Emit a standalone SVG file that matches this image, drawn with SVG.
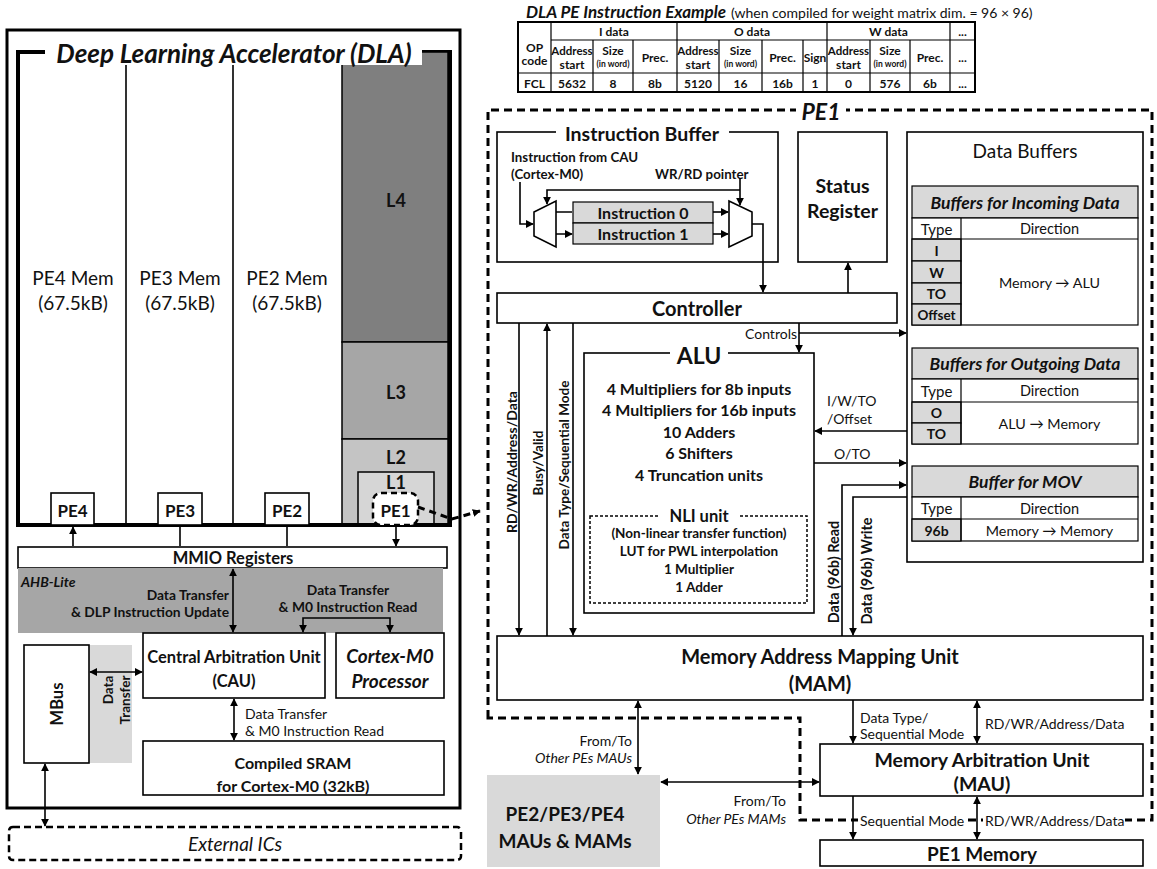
<svg xmlns="http://www.w3.org/2000/svg" width="1157" height="869" viewBox="0 0 1157 869">
<defs>
<marker id="ah" viewBox="0 0 10 10" refX="9" refY="5" markerWidth="8" markerHeight="8" markerUnits="userSpaceOnUse" orient="auto-start-reverse"><path d="M0,0 L10,5 L0,10 z" fill="#000"/></marker>
<style>
text{font-family:Lato,"Liberation Sans",sans-serif;fill:#111}
.c{text-anchor:middle;dominant-baseline:central}
.s{text-anchor:start;dominant-baseline:central}
.e{text-anchor:end;dominant-baseline:central}
.bo{font-weight:bold}
.it{font-style:italic}
.bx{fill:#fff;stroke:#000;stroke-width:1.6}
.ln{fill:none;stroke:#000;stroke-width:1.6}
.ar{fill:none;stroke:#000;stroke-width:1.6;marker-end:url(#ah)}
.ar2{fill:none;stroke:#000;stroke-width:1.6;marker-start:url(#ah);marker-end:url(#ah)}
.g{fill:#d9d9d9;stroke:#000;stroke-width:1.2}
.tl{stroke:#000;stroke-width:1.2;fill:none}
.dash{fill:none;stroke:#000;stroke-width:3;stroke-dasharray:8 5}
</style>
</defs>

<!-- Instruction example table -->
<g id="instr-table">
<text x="526" y="11" class="s bo it" font-size="17">DLA PE Instruction Example</text>
<text x="731" y="12" class="s" font-size="14">(when compiled for weight matrix dim. = 96 × 96)</text>
<rect x="518" y="22" width="457" height="70" fill="#fff" stroke="#000" stroke-width="2"/>
<path class="tl" d="M551,40H975 M518,73H975 M551,22V92 M677,22V92 M827,22V92 M950,22V92 M593,40V92 M633,40V92 M719,40V92 M762,40V92 M803,40V92 M870,40V92 M910,40V92"/>
<g font-size="12" class="bo">
<text x="534.5" y="47" class="c bo">OP</text><text x="534.5" y="60" class="c bo">code</text>
<text x="614" y="31" class="c">I data</text><text x="752" y="31" class="c">O data</text><text x="888.5" y="31" class="c">W data</text><text x="962.5" y="31" class="c">...</text>
<text x="572" y="50" class="c" font-size="11.5">Address</text><text x="572" y="64" class="c">start</text>
<text x="613" y="50" class="c">Size</text><text x="613" y="64" class="c" font-size="8.5">(in word)</text>
<text x="655" y="57" class="c">Prec.</text>
<text x="698" y="50" class="c" font-size="11.5">Address</text><text x="698" y="64" class="c">start</text>
<text x="740.5" y="50" class="c">Size</text><text x="740.5" y="64" class="c" font-size="8.5">(in word)</text>
<text x="782.5" y="57" class="c">Prec.</text>
<text x="815" y="57" class="c">Sign</text>
<text x="848.5" y="50" class="c" font-size="11.5">Address</text><text x="848.5" y="64" class="c">start</text>
<text x="890" y="50" class="c">Size</text><text x="890" y="64" class="c" font-size="8.5">(in word)</text>
<text x="930" y="57" class="c">Prec.</text>
<text x="962.5" y="57" class="c">...</text>
<text x="534.5" y="83" class="c">FCL</text><text x="572" y="83" class="c">5632</text><text x="613" y="83" class="c">8</text><text x="655" y="83" class="c">8b</text>
<text x="698" y="83" class="c">5120</text><text x="740.5" y="83" class="c">16</text><text x="782.5" y="83" class="c">16b</text><text x="815" y="83" class="c">1</text>
<text x="848.5" y="83" class="c">0</text><text x="890" y="83" class="c">576</text><text x="930" y="83" class="c">6b</text><text x="962.5" y="83" class="c">...</text>
</g>
</g>

<!-- Left: system -->
<g id="system">
<rect x="7" y="30" width="453" height="778" fill="#fff" stroke="#000" stroke-width="3"/>
</g>
<g id="dla">
<rect x="18" y="52" width="432" height="473" fill="#fff" stroke="#000" stroke-width="4"/>
<rect x="342" y="52" width="106" height="290" fill="#7f7f7f" stroke="#000" stroke-width="1.5"/>
<rect x="342" y="342" width="106" height="97" fill="#a6a6a6" stroke="#000" stroke-width="1.5"/>
<rect x="342" y="439" width="106" height="86" fill="#c4c4c4" stroke="#000" stroke-width="1.5"/>
<rect x="358" y="472" width="76" height="53" fill="#d6d6d6" stroke="#000" stroke-width="1.5"/>
<path class="ln" d="M126,64V525 M233,64V525"/>
<rect x="45" y="40" width="377" height="25" fill="#fff"/>
<text x="234" y="53" class="c bo it" font-size="26">Deep Learning Accelerator (DLA)</text>
<text x="73" y="277" class="c" font-size="19">PE4 Mem</text><text x="73" y="302" class="c" font-size="19">(67.5kB)</text>
<text x="180" y="277" class="c" font-size="19">PE3 Mem</text><text x="180" y="302" class="c" font-size="19">(67.5kB)</text>
<text x="287" y="277" class="c" font-size="19">PE2 Mem</text><text x="287" y="302" class="c" font-size="19">(67.5kB)</text>
<text x="396" y="200" class="c bo" font-size="18">L4</text>
<text x="396" y="392" class="c bo" font-size="18">L3</text>
<text x="396" y="457" class="c bo" font-size="18">L2</text>
<text x="396" y="482" class="c bo" font-size="18">L1</text>
<path d="M18,525H450" stroke="#000" stroke-width="4"/>
</g>
<g id="pe4"><rect class="bx" x="51" y="493" width="43" height="32"/><text x="72.5" y="510" class="c bo" font-size="17">PE4</text></g>
<g id="pe3"><rect class="bx" x="158" y="493" width="44" height="32"/><text x="180" y="510" class="c bo" font-size="17">PE3</text></g>
<g id="pe2"><rect class="bx" x="265" y="493" width="44" height="32"/><text x="287" y="510" class="c bo" font-size="17">PE2</text></g>
<g id="pe1-small"><rect x="373" y="493" width="45" height="32" rx="8" fill="#fff" stroke="#000" stroke-width="2.5" stroke-dasharray="6 4"/><text x="395.5" y="510" class="c bo" font-size="17">PE1</text></g>

<g id="mmio"><rect class="bx" x="18" y="547" width="429" height="21"/><text x="233" y="558" class="c bo" font-size="16.5">MMIO Registers</text></g>
<g id="ahb"><rect x="18" y="568" width="425" height="65" fill="#a6a6a6"/><text x="21" y="581" class="s bo it" font-size="14">AHB-Lite</text>
<text x="229" y="594" class="e bo" font-size="13.8">Data Transfer</text>
<text x="229" y="611" class="e bo" font-size="13.8">&amp; DLP Instruction Update</text>
<text x="348" y="589" class="c bo" font-size="13.8">Data Transfer</text>
<text x="348" y="606" class="c bo" font-size="13.8">&amp; M0 Instruction Read</text>
</g>
<g id="cau"><rect class="bx" x="143" y="633" width="182" height="65"/><text x="234" y="657" class="c bo" font-size="16.5">Central Arbitration Unit</text><text x="234" y="681" class="c bo" font-size="16.5">(CAU)</text></g>
<g id="cortex"><rect class="bx" x="336" y="633" width="108" height="65"/><text x="390" y="655" class="c bo it" font-size="19">Cortex-M0</text><text x="390" y="680" class="c bo it" font-size="19">Processor</text></g>
<g id="mbus-band"><rect x="89" y="645" width="43" height="118" fill="#d9d9d9"/>
<text transform="translate(108,690) rotate(-90)" class="c bo" font-size="13.5">Data</text>
<text transform="translate(125,700) rotate(-90)" class="c bo" font-size="13.5">Transfer</text></g>
<g id="mbus"><rect class="bx" x="24" y="645" width="65" height="118"/><text transform="translate(57,704) rotate(-90)" class="c bo" font-size="16.5">MBus</text></g>
<g id="sram"><rect class="bx" x="143" y="741" width="301" height="54"/><text x="293" y="762" class="c bo" font-size="16">Compiled SRAM</text><text x="293" y="785" class="c bo" font-size="16">for Cortex-M0 (32kB)</text></g>
<text x="245" y="713" class="s" font-size="14">Data Transfer</text>
<text x="245" y="730" class="s" font-size="14">&amp; M0 Instruction Read</text>
<g id="external"><rect x="9" y="827" width="452" height="33" rx="4" fill="#fff" stroke="#000" stroke-width="2.5" stroke-dasharray="7 4"/><text x="235" y="843" class="c it" font-size="19">External ICs</text></g>

<!-- PE1 detail -->
<g id="pe1-boundary">
<path class="dash" d="M488,718V110H1152V820H800V718Z"/>
<rect x="796" y="98" width="50" height="26" fill="#fff"/>
<text x="821" y="111" class="c bo it" font-size="23">PE1</text>
</g>

<g id="instruction-buffer">
<rect class="bx" x="497" y="132" width="281" height="130"/>
<rect x="556" y="121" width="173" height="22" fill="#fff"/>
<text x="642" y="133" class="c bo" font-size="19.5">Instruction Buffer</text>
<text x="511" y="157" class="s bo" font-size="13.3" fill="#333">Instruction from CAU</text>
<text x="511" y="174" class="s bo" font-size="13.3" fill="#333">(Cortex-M0)</text>
<text x="655" y="174" class="s bo" font-size="13.3" fill="#333">WR/RD pointer</text>
<polygon points="534,212 556,201 556,247 534,236" fill="#fff" stroke="#000" stroke-width="1.6"/>
<polygon points="729,201 752,212 752,236 729,247" fill="#fff" stroke="#000" stroke-width="1.6"/>
<rect class="g" x="573" y="202" width="140" height="21" stroke-width="1.6"/>
<rect class="g" x="573" y="223" width="140" height="21" stroke-width="1.6"/>
<text x="643" y="212.5" class="c bo" font-size="16">Instruction 0</text>
<text x="643" y="233.5" class="c bo" font-size="16">Instruction 1</text>
</g>

<g id="status-register"><rect class="bx" x="798" y="132" width="89" height="130"/><text x="842.5" y="185" class="c bo" font-size="19.5">Status</text><text x="842.5" y="210" class="c bo" font-size="19.5">Register</text></g>

<g id="controller"><rect class="bx" x="497" y="293" width="400" height="30"/><text x="697" y="308" class="c bo" font-size="20">Controller</text></g>

<g id="alu">
<rect class="bx" x="584" y="353" width="230" height="260"/>
<rect x="670" y="342" width="58" height="22" fill="#fff"/>
<text x="699" y="355" class="c bo" font-size="23">ALU</text>
<g font-size="16" class="bo">
<text x="699" y="388" class="c">4 Multipliers for 8b inputs</text>
<text x="699" y="409" class="c">4 Multipliers for 16b inputs</text>
<text x="699" y="431" class="c">10 Adders</text>
<text x="699" y="452" class="c">6 Shifters</text>
<text x="699" y="474" class="c">4 Truncation units</text>
</g>
</g>
<g id="nli-unit">
<rect x="590" y="516" width="217" height="87" fill="none" stroke="#000" stroke-width="1.5" stroke-dasharray="3 2"/>
<rect x="658" y="506" width="82" height="20" fill="#fff"/>
<text x="699" y="516" class="c bo" font-size="16.5">NLI unit</text>
<g font-size="13.5" class="bo">
<text x="699" y="533" class="c">(Non-linear transfer function)</text>
<text x="699" y="551" class="c">LUT for PWL interpolation</text>
<text x="699" y="569" class="c">1 Multiplier</text>
<text x="699" y="587" class="c">1 Adder</text>
</g>
</g>

<g id="data-buffers">
<rect class="bx" x="907" y="132" width="236" height="430"/>
<text x="1025" y="150" class="c" font-size="19">Data Buffers</text>
<!-- incoming -->
<rect class="g" x="912" y="186" width="226" height="32"/>
<text x="1025" y="202" class="c bo it" font-size="17.5">Buffers for Incoming Data</text>
<rect x="912" y="218" width="226" height="107" fill="#fff" stroke="#000" stroke-width="1.2"/>
<rect class="g" x="912" y="239" width="49" height="22"/><rect class="g" x="912" y="261" width="49" height="22"/>
<rect class="g" x="912" y="283" width="49" height="21"/><rect class="g" x="912" y="304" width="49" height="21"/>
<path class="tl" d="M912,239H1138 M961,218V325"/>
<text x="936.5" y="228.5" class="c" font-size="15">Type</text><text x="1049.5" y="228.5" class="c" font-size="14.5">Direction</text>
<text x="936.5" y="250" class="c bo" font-size="14">I</text><text x="936.5" y="272" class="c bo" font-size="14">W</text>
<text x="936.5" y="293.5" class="c bo" font-size="14">TO</text><text x="936.5" y="314.5" class="c bo" font-size="13.5">Offset</text>
<text x="1049.5" y="282" class="c" font-size="14.3">Memory → ALU</text>
<!-- outgoing -->
<rect class="g" x="912" y="348" width="226" height="31"/>
<text x="1025" y="363.5" class="c bo it" font-size="17.5">Buffers for Outgoing Data</text>
<rect x="912" y="379" width="226" height="65" fill="#fff" stroke="#000" stroke-width="1.2"/>
<rect class="g" x="912" y="402" width="49" height="21"/><rect class="g" x="912" y="423" width="49" height="21"/>
<path class="tl" d="M912,402H1138 M961,379V444"/>
<text x="936.5" y="390.5" class="c" font-size="15">Type</text><text x="1049.5" y="390.5" class="c" font-size="14.5">Direction</text>
<text x="936.5" y="412.5" class="c bo" font-size="14">O</text><text x="936.5" y="433.5" class="c bo" font-size="14">TO</text>
<text x="1049.5" y="423.5" class="c" font-size="14.3">ALU → Memory</text>
<!-- MOV -->
<rect class="g" x="912" y="466" width="226" height="31"/>
<text x="1025" y="481.5" class="c bo it" font-size="17.5">Buffer for MOV</text>
<rect x="912" y="497" width="226" height="44" fill="#fff" stroke="#000" stroke-width="1.2"/>
<rect class="g" x="912" y="519" width="49" height="22"/>
<path class="tl" d="M912,519H1138 M961,497V541"/>
<text x="936.5" y="508" class="c" font-size="15">Type</text><text x="1049.5" y="508" class="c" font-size="14.5">Direction</text>
<text x="936.5" y="530" class="c bo" font-size="14">96b</text>
<text x="1049.5" y="530" class="c" font-size="14.3">Memory → Memory</text>
</g>

<g id="mam"><rect class="bx" x="497" y="636" width="646" height="64"/><text x="820" y="656" class="c bo" font-size="20">Memory Address Mapping Unit</text><text x="820" y="683" class="c bo" font-size="20">(MAM)</text></g>
<g id="mau"><rect class="bx" x="820" y="744" width="323" height="52"/><text x="982" y="759" class="c bo" font-size="19.5">Memory Arbitration Unit</text><text x="982" y="783" class="c bo" font-size="19.5">(MAU)</text></g>
<g id="pe1-memory"><rect class="bx" x="820" y="840" width="323" height="26"/><text x="982" y="853" class="c bo" font-size="19">PE1 Memory</text></g>
<g id="other-pes"><rect x="487" y="775" width="173" height="92" fill="#d9d9d9"/><text x="565" y="813" class="c bo" font-size="19">PE2/PE3/PE4</text><text x="565" y="840" class="c bo" font-size="19">MAUs &amp; MAMs</text></g>

<g id="connectors">
<!-- DLA -->
<path class="ar2" d="M73,527V546 M180,527V546 M287,527V546 M396,527V546"/>
<path class="ar2" d="M233,569V632"/>
<path class="ar2" d="M303,632V618H390V632"/>
<path class="ar2" d="M90,672H142"/>
<path class="ar2" d="M234,699V740"/>
<path class="ar2" d="M45,764V826"/>
<path fill="none" stroke="#000" stroke-width="3" stroke-dasharray="7 5" d="M418,507L452,519L480,511" marker-end="url(#ah)"/>
<!-- instruction buffer -->
<path class="ar" d="M520,182V224H533"/>
<path class="ar" d="M556,212H572 M556,234H572"/>
<path class="ar" d="M713,212H728"/>
<path class="ar" d="M713,234H728"/>
<path class="ar" d="M740,178V205"/>
<path class="ar" d="M740,190H547V204"/>
<path class="ar" d="M752,224H763V292"/>
<path class="ar" d="M848,293V263"/>
<!-- controller -->
<path class="ar" d="M799,323V352"/>
<path class="ar" d="M799,333H906"/>
<path class="ar" d="M519,323V635"/>
<path class="ar" d="M547,636V324"/>
<path class="ar" d="M573,323V635"/>
<!-- ALU / buffers -->
<path class="ar" d="M907,431H815"/>
<path class="ar" d="M814,463H906"/>
<path class="ar" d="M842,636V485H906"/>
<path class="ar" d="M907,497H853V635"/>
<!-- MAM / MAU -->
<path class="ar" d="M853,700V743"/>
<path class="ar2" d="M977,701V743"/>
<path class="ar2" d="M638,701V774"/>
<path class="ar2" d="M661,782H819"/>
<path class="ar" d="M853,796V839"/>
<path class="ar2" d="M977,797V839"/>
</g>

<g id="labels">
<text x="797" y="333" class="e" font-size="14">Controls</text>
<text x="827" y="400" class="s" font-size="14">I/W/TO</text>
<text x="827" y="418" class="s" font-size="14">/Offset</text>
<text x="834" y="453" class="s" font-size="14">O/TO</text>
<text transform="translate(833,572) rotate(-90)" class="c bo" font-size="14.5">Data (96b) Read</text>
<text transform="translate(866,571) rotate(-90)" class="c bo" font-size="14.5">Data (96b) Write</text>
<text transform="translate(511,462) rotate(-90)" class="c bo" font-size="14">RD/WR/Address/Data</text>
<text transform="translate(538,463) rotate(-90)" class="c bo" font-size="13.5">Busy/Valid</text>
<text transform="translate(564,465) rotate(-90)" class="c bo" font-size="13.5">Data Type/Sequential Mode</text>
<text x="860" y="717" class="s" font-size="14">Data Type/</text>
<text x="860" y="733" class="s" font-size="14">Sequential Mode</text>
<text x="985" y="723" class="s" font-size="14">RD/WR/Address/Data</text>
<text x="632" y="740" class="e" font-size="14">From/To</text>
<text x="632" y="757" class="e it" font-size="14">Other PEs MAUs</text>
<text x="786" y="800" class="e" font-size="14">From/To</text>
<text x="786" y="818" class="e it" font-size="14">Other PEs MAMs</text>
<rect x="858" y="812" width="110" height="16" fill="#fff"/>
<text x="860" y="820" class="s" font-size="14">Sequential Mode</text>
<rect x="983" y="812" width="142" height="16" fill="#fff"/>
<text x="985" y="820" class="s" font-size="14">RD/WR/Address/Data</text>
</g>
</svg>
